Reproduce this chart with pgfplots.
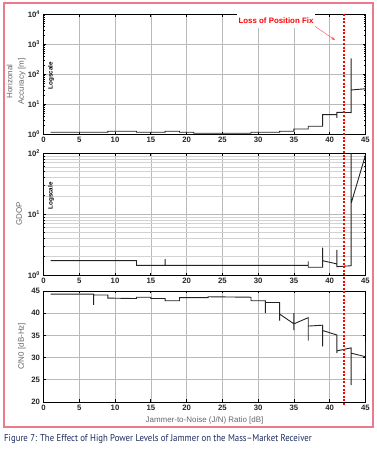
\documentclass[border=0pt]{standalone}
\usepackage{pgfplots}
\pgfplotsset{compat=1.18}
\usepackage{graphicx}
\usepackage{fontspec}
\setmainfont{Liberation Sans}
\newfontfamily\capfont{PT Sans}
\usetikzlibrary{arrows.meta}
\definecolor{pinkframe}{RGB}{238,120,140}
\definecolor{capblue}{RGB}{30,45,95}
\definecolor{trace}{RGB}{35,35,35}

\pgfplotsset{
 mystyle/.style={
  scale only axis, width=322bp,
  xmin=0, xmax=45, xtick={0,5,...,45},
  tick align=inside,
  axis line style={line width=0.9bp, black},
  every tick/.style={black, line width=0.8bp},
  major tick length=2.5bp, minor tick length=1.5bp,
  xmajorgrids, ymajorgrids,
  major grid style={gray!55, line width=0.6bp},
  minor grid style={gray!35, line width=0.5bp},
  ticklabel style={font=\fontsize{7.8}{8.5}\selectfont\bfseries, text=black!85},
  xticklabel style={yshift=0.5bp},
  /pgf/number format/assume math mode=true,
  label style={font=\fontsize{8}{11.5}\selectfont, text=black!60},
 }
}

\begin{document}
\begin{tikzpicture}
\useasboundingbox (0,0) rectangle (377bp,451bp);

% Top panel
\begin{axis}[mystyle, at={(43.5bp,316.7bp)}, anchor=south west, height=120bp,
  ymode=log, ymin=1, ymax=10000, ytick={1,10,100,1000,10000},
  yticklabels={10\textsuperscript{0},10\textsuperscript{1},10\textsuperscript{2},10\textsuperscript{3},10\textsuperscript{4}},
  minor ytick={2,3,...,9,20,30,...,90,200,300,...,900,2000,3000,...,9000},
  ylabel={Horizonal\\Accuracy [m]},
  ylabel style={align=center, at={(axis description cs:-0.085,0.44)}, anchor=center}]
\addplot[trace, line width=0.9bp] coordinates {
 (1,1.17) (9,1.17) (9,1.26) (13,1.26) (13,1.17) (17,1.17) (17,1.26) (19,1.26)
 (19,1.17) (21,1.17) (21,1.08) (29,1.08) (29,1.17) (33,1.17) (33,1.26) (35,1.26)
 (35,1.5) (37,1.5) (37,1.85) (39,1.85) (39,4.5) (41,4.5) (41,3.5) (41,5.4)
 (43,5.3) (43,340) (43,30) (45,33)
};
\coordinate (rt) at (axis cs:42,10000);
\node[rotate=90, font=\fontsize{6.3}{7}\selectfont\bfseries] at (rel axis cs:0.023,0.49) {Logscale};
\end{axis}

% Middle panel
\begin{axis}[mystyle, at={(43.5bp,176bp)}, anchor=south west, height=121.7bp,
  ymode=log, ymin=1, ymax=100, ytick={1,10,100},
  yticklabels={10\textsuperscript{0},10\textsuperscript{1},10\textsuperscript{2}},
  minor ytick={2,3,...,9,20,30,...,90},
  yminorgrids,
  ylabel={GDOP},
  ylabel style={at={(axis description cs:-0.076,0.5)}, anchor=center}]
\addplot[trace, line width=0.9bp] coordinates {
 (1,1.72) (13,1.72) (13,1.44) (17,1.44) (17,1.83) (17,1.44) (37,1.44) (37,1.68)
 (37,1.34) (39,1.34) (39,2.81) (39,1.72) (41,1.52) (41,2.58) (41,1.37) (43,1.42)
 (43,100) (43,15.1) (45,94)
};
\node[rotate=90, font=\fontsize{6.3}{7}\selectfont\bfseries] at (rel axis cs:0.023,0.65) {Logscale};
\end{axis}

% Bottom panel
\begin{axis}[mystyle, at={(43.5bp,49bp)}, anchor=south west, height=111bp,
  ymin=20, ymax=45, ytick={20,25,...,45},
  ylabel={C/N0 [dB-Hz]},
  ylabel style={at={(axis description cs:-0.067,0.5)}, anchor=center},
  xlabel={Jammer-to-Noise (J/N) Ratio [dB]},
  xlabel style={at={(axis description cs:0.5,-0.162)}, anchor=center}]
\addplot[trace, line width=0.9bp] coordinates {
 (1,44.3) (7,44.3) (7,41.9) (7,44.1) (9,44.1) (9,43.4) (13,43.3) (13,43.6) (15,43.6)
 (15,43.3) (17,43.3) (17,42.8) (19,42.8) (19,43.5) (23,43.5) (23,43.7) (29,43.6)
 (29,42.8) (31,42.8) (31,40.0) (31,42.4) (33,42.4) (33,38.3) (33,39.8) (35,37.6)
 (35,40.0) (35,36.2) (35,37.6) (37,39.0) (37,33.8) (37,37.1) (39,37.3) (39,32.5)
 (39,36.1) (41,35.1) (41,31.0) (41,31.5) (43,32.2) (43,23.8) (43,31.0) (45,30.2)
 (45,33.6) (45,26.5)
};
\coordinate (rb) at (axis cs:42,20);
\end{axis}

% Loss of position fix marker
\draw[red, line width=2bp, dash pattern=on 2bp off 1.6bp] (rt) -- ([yshift=-3bp]rb);
\draw[red!70, line width=0.4bp, -{Stealth[length=4bp,width=3bp]}] (313bp,426bp) -- (335bp,411bp);
\node[fill=white, text=red, font=\fontsize{7.9}{9}\selectfont\bfseries, inner xsep=1.5bp, minimum height=16bp] at (276bp,430.5bp) {Loss of Position Fix};

% frame
\draw[pinkframe, line width=1.2bp] (4bp,24bp) rectangle (373bp,448bp);

% caption
\node[anchor=base west, inner sep=0, text=capblue] at (4bp,9.5bp) {\scalebox{0.88}[1]{\capfont\fontsize{10}{12}\selectfont Figure 7: The Effect of High Power Levels of Jammer on the Mass–Market Receiver}};
\end{tikzpicture}
\end{document}
